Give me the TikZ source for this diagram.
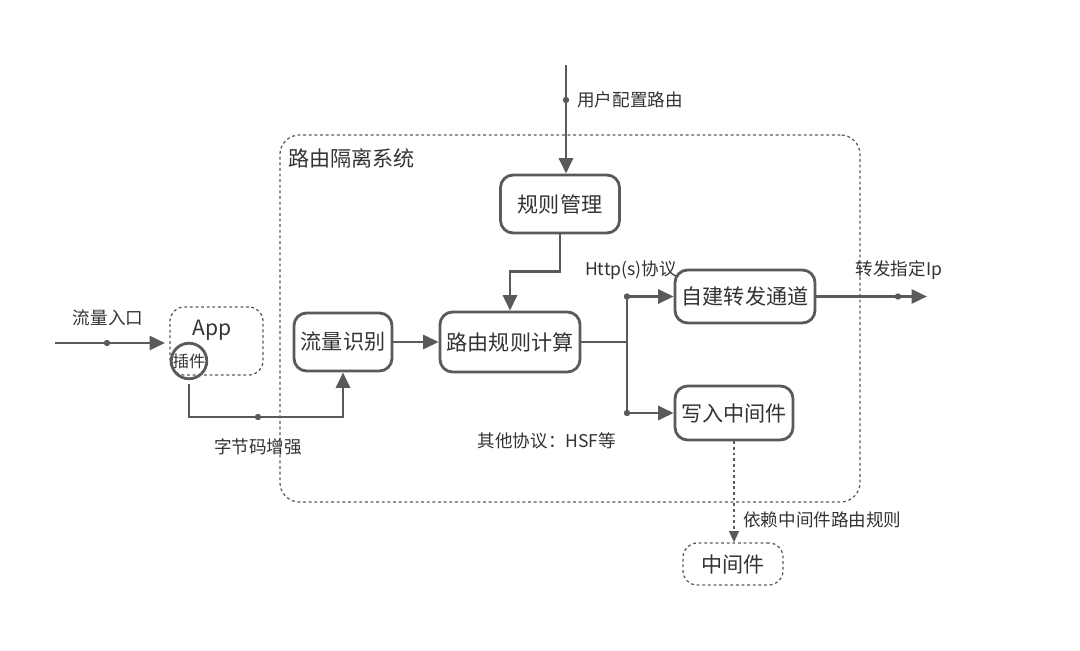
\documentclass[tikz,border=0pt]{standalone}
\usepackage{fontspec}
\setmainfont{Noto Sans CJK SC}
\usepackage{xcolor}
\usetikzlibrary{arrows.meta, positioning}
\definecolor{linegray}{HTML}{5A5A5A}
\definecolor{textgray}{HTML}{333333}

\begin{document}
\begin{tikzpicture}[
    x=0.025cm, y=-0.025cm,
    line/.style={draw=linegray, line width=2pt},
    arrow/.style={line, -{Triangle[length=11pt, width=10pt]}},
    dotarrow/.style={draw=linegray, line width=1pt, dash pattern=on 2pt off 2pt, -{Triangle[length=8pt, width=7pt]}},
    box/.style={rectangle, rounded corners=9pt, draw=linegray, line width=2pt, fill=white, align=center, text=textgray, inner sep=0pt, font=\fontsize{15}{18}\selectfont},
    dashbox/.style={rectangle, rounded corners=10pt, draw=linegray, line width=0.9pt, dash pattern=on 2pt off 2pt, inner sep=0pt, text=textgray, font=\fontsize{15}{18}\selectfont},
    plugin/.style={circle, draw=linegray, line width=2pt, minimum size=0.85cm, inner sep=0pt, text=textgray, font=\fontsize{11.5}{13}\selectfont},
    label/.style={text=textgray, inner sep=0pt, font=\fontsize{12.5}{15}\selectfont},
    dot/.style={circle, fill=linegray, inner sep=0pt, minimum size=0.16cm}
]

\useasboundingbox (0,0) rectangle (1080,651);

\node[dashbox, rounded corners=14pt, minimum width=14.5cm, minimum height=9.175cm] (sys) at (570,318.5) {};
\node[label, anchor=west, font=\fontsize{15}{18}\selectfont] (systitle) at (288,158) {路由隔离系统};

\node[box, minimum width=2.975cm, minimum height=1.45cm] (rule) at (560,204) {规则管理};
\node[box, minimum width=3.5cm, minimum height=1.5cm] (calc) at (510,342) {路由规则计算};
\node[box, minimum width=2.45cm, minimum height=1.45cm] (ident) at (343,342) {流量识别};
\node[box, minimum width=3.5cm, minimum height=1.325cm] (tunnel) at (745,296.5) {自建转发通道};
\node[box, minimum width=2.95cm, minimum height=1.35cm] (write) at (734,413) {写入中间件};
\node[dashbox, minimum width=2.5cm, minimum height=1.05cm] (mw) at (733,564) {中间件};

\node[dashbox, minimum width=2.325cm, minimum height=1.7cm] (app) at (216.5,341) {};
\node[label, font=\fontsize{15}{18}\selectfont] (apptext) at (212,330) {App};
\node[plugin] (plug) at (189,361) {插件};

\coordinate (in) at (55,343);
\coordinate (appin) at (165,343);
\coordinate (user) at (566,65);
\coordinate (split) at (627,342);
\coordinate (out) at (927,296.5);
\coordinate (bend) at (258,417);

\draw[arrow] (in) -- (appin);
\node[dot] (indot) at (107,343) {};
\node[label] (inlabel) at (108,318) {流量入口};

\draw[arrow] (user) -- (user |- rule.north);
\node[dot] (userdot) at (566,100) {};
\node[label, anchor=west] (userlabel) at (577,100) {用户配置路由};

\draw[arrow] (rule.south) -- ++(0,37) -| (calc.north);
\draw[arrow] (ident) -- (calc);

\draw[line] (calc.east) -- (split);
\draw[arrow] (split) |- (tunnel.west);
\draw[arrow] (split) |- (write.west);
\node[dot] (splitup) at (split |- tunnel.west) {};
\node[dot] (splitdown) at (split |- write.west) {};
\node[label] (httplabel) at (631,270) {Http(s)协议};
\node[label] (hsflabel) at (547,441) {其他协议：HSF等};

\draw[arrow] (tunnel) -- (out);
\node[dot] (outdot) at (898,296.5) {};
\node[label] (outlabel) at (899,270) {转发指定Ip};

\draw[dotarrow] (write.south) -- (write.south |- mw.north);
\node[label, anchor=west] (mwlabel) at (743,520) {依赖中间件路由规则};

\draw[arrow, shorten <=3pt] (plug.south) -- (plug.south |- bend) -| (ident.south);
\node[dot] (benddot) at (bend) {};
\node[label] (bendlabel) at (258,447) {字节码增强};

\end{tikzpicture}
\end{document}
